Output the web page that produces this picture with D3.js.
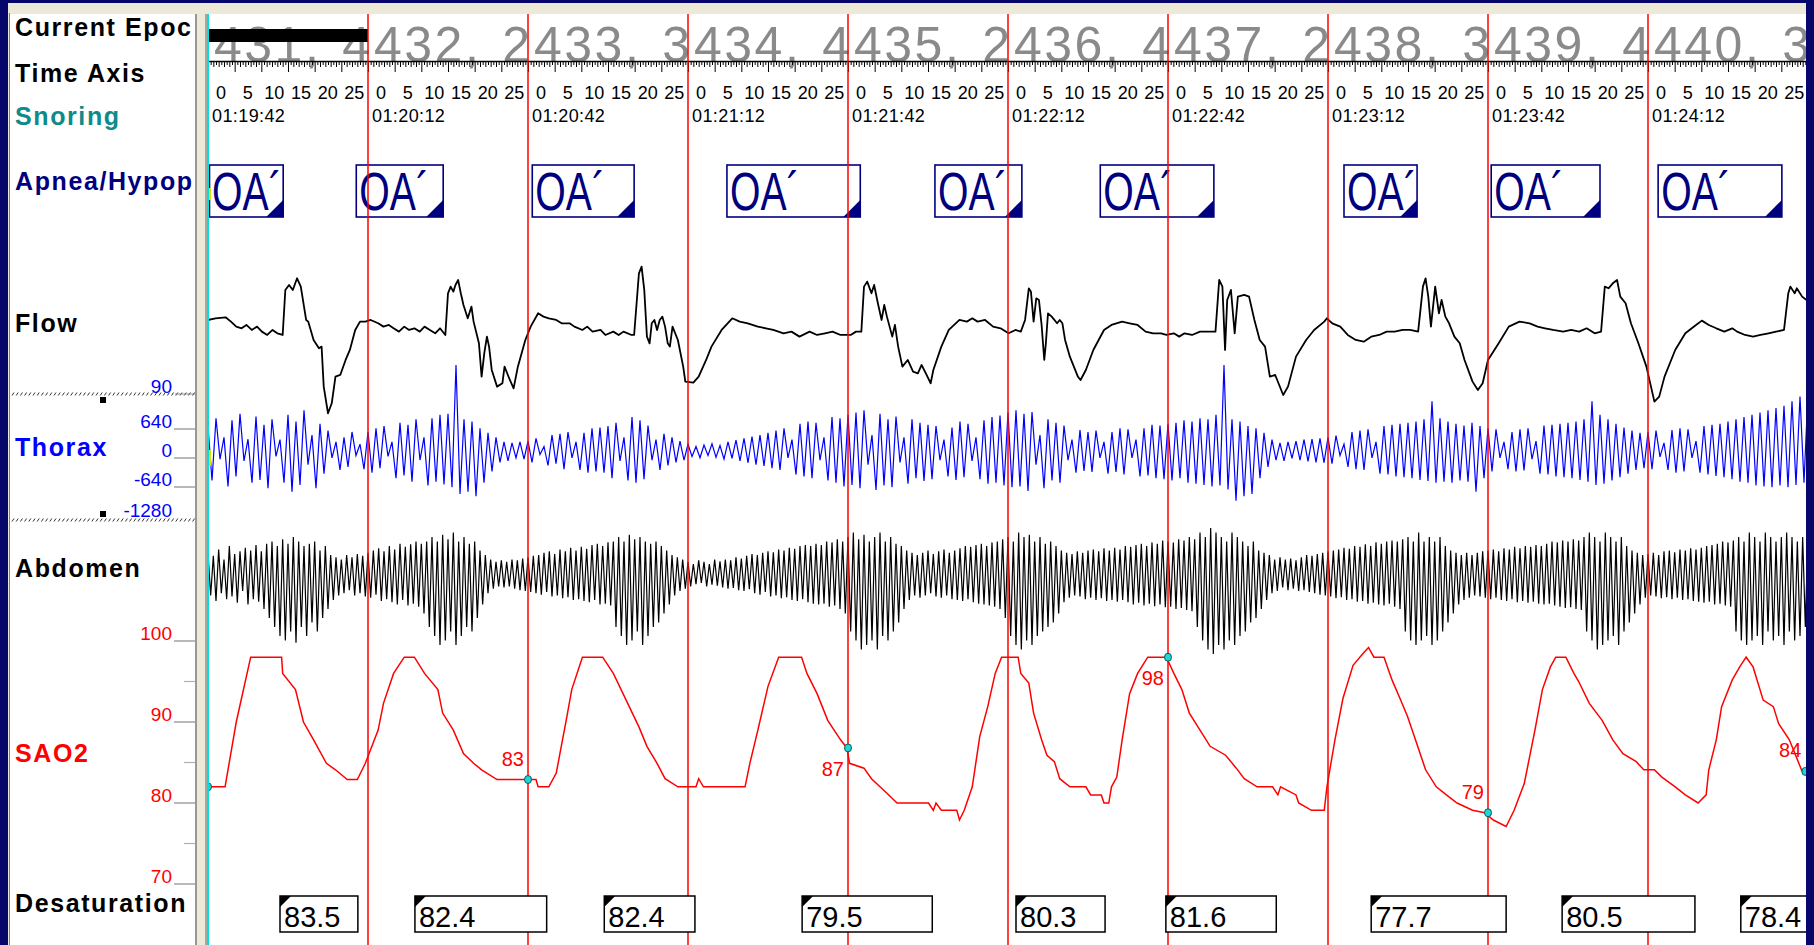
<!DOCTYPE html>
<html>
<head>
<meta charset="utf-8">
<script src="https://cdn.jsdelivr.net/npm/d3@7"></script>
<style>
  html, body { margin: 0; padding: 0; background: #07076b; overflow: hidden; }
  svg { display: block; }
</style>
</head>
<body>
<svg id="chart"></svg>
<script>
// ---- data ----
const channelNames = ['Current Epoc', 'Time Axis', 'Snoring', 'Apnea/Hypop', 'Flow', 'Thorax', 'Abdomen', 'SAO2', 'Desaturation'];
const epochNumbers = [431, 432, 433, 434, 435, 436, 437, 438, 439, 440];
const epochStages = [4, 2, 3, 4, 2, 4, 2, 3, 4, 3];
const epochClock = ['01:19:42', '01:20:12', '01:20:42', '01:21:12', '01:21:42', '01:22:12', '01:22:42', '01:23:12', '01:23:42', '01:24:12'];
const secondLabels = [0, 5, 10, 15, 20, 25];

const thoraxTicks = [640, 0, -640];
const sao2Ticks = [100, 90, 80, 70];
const sao2MinorTicks = [95, 85, 75];

// apnea events (seconds from window start)
const apneaStart = [0, 27.8, 60.8, 97.3, 136.3, 167.3, 213.0, 240.6, 271.9];
const apneaEnd = [14.1, 44.1, 79.9, 122.3, 152.6, 188.6, 226.7, 261.0, 295.1];
const apneaLabel = 'OA\u00b4';

// desaturation events
const desatStart = [13.5, 38.8, 74.3, 111.4, 151.5, 179.6, 218.1, 253.9, 287.4];
const desatEnd = [28.1, 63.5, 91.3, 135.8, 168.2, 200.3, 243.4, 278.8, 310];
const desatValue = ['83.5', '82.4', '82.4', '79.5', '80.3', '81.6', '77.7', '80.5', '78.4'];

// SAO2 markers
const markerTime = [0, 60, 120, 180, 240, 299.5];
const markerValue = [82, 82.9, 86.8, 98, 78.8, 83.9];
const markerText = ['', '83', '87', '98', '79', '84'];
const markerSide = ['', 'above', 'below', 'below', 'above', 'above'];

// SAO2 trace [seconds, %]
const sao2Points = [[0,82],[3.2,82],[5.3,90],[8.0,98],[13.8,98],[14.0,96],[16.4,94],[17.9,90],[19.8,87.8],[22.2,84.9],[23.9,84.1],[26.1,82.9],[28.0,82.9],[29.5,84.9],[31.9,89],[32.9,92.3],[34.8,96],[36.8,98],[38.7,98],[40.6,96],[43.1,94],[44.0,91.1],[46.0,89],[47.9,86.1],[49.8,84.9],[51.3,84.1],[54.2,82.9],[61.5,82.9],[61.9,82],[63.9,82],[65.3,83.7],[67.3,90.7],[68.2,94],[70.2,98],[74.0,98],[76.0,96],[78.4,92.7],[80.8,89.4],[82.3,87],[84.2,84.9],[85.7,83],[88.1,82],[91.5,82],[92.0,83],[92.9,82],[100.7,82],[101.6,84.9],[103.1,89],[105.0,94.4],[107.0,98],[111.3,98],[112.3,96],[114.2,93.5],[116.2,90.2],[118.6,87.8],[119.8,86.8],[120.3,84.9],[123.0,84.3],[124.4,83],[127.3,81.2],[129.2,80],[135.1,80],[136.0,79.1],[136.5,80],[137.5,79.1],[140.4,79.1],[140.9,77.9],[141.8,79.1],[143.3,82],[144.7,88.2],[146.2,91.9],[147.6,96],[148.8,98],[151.9,98],[152.4,96],[153.9,94.8],[154.8,91.1],[156.3,87.8],[157.3,85.9],[158.7,85.1],[159.7,83],[161.6,82],[164.6,82],[165.5,81],[167.5,81],[168.0,80],[168.9,80],[169.4,82],[170.4,83.2],[171.4,87.8],[172.8,93.5],[174.3,96],[176.2,98],[179.7,98],[181.1,96],[182.6,94],[184.0,91.1],[186.0,89],[187.9,87],[190.8,85.9],[192.8,84.3],[194.3,83],[196.7,82],[199.6,82],[200.6,81],[201.1,82],[204.0,81],[204.5,80],[206.9,79.1],[209.3,79.1],[209.8,82],[211.3,87.8],[212.8,92.9],[214.7,97],[216.6,98.5],[217.6,99.2],[218.6,98],[220.5,98],[222.0,95.2],[223.5,92.9],[224.9,90.7],[226.4,87.8],[228.3,84.1],[230.3,82],[232.2,81],[234.2,80],[237.1,79.1],[239.4,78.8],[241.0,77.9],[243.4,77.1],[244.9,79.1],[246.8,82.4],[247.8,85.7],[248.8,89],[250.2,94],[251.7,96.8],[252.7,98],[254.6,98],[256.1,96],[257.0,95],[259.0,92.3],[261.4,90.2],[263.4,87.8],[265.3,86.1],[267.8,85.1],[269.2,84.1],[271.2,84.1],[272.6,83.2],[275.1,82],[277.0,81],[279.4,80],[280.9,81],[281.4,84.1],[282.8,87.8],[283.8,91.9],[285.8,95.2],[287.2,96.8],[288.4,98],[289.7,96.8],[291.6,92.7],[293.5,91.9],[294.5,89.8],[296.5,87.8],[298.9,83.9],[300.5,83]];

// Flow trace [seconds, arbitrary units]
const flowPoints = [[0,10],[1.4,15],[3.3,18],[4.3,5],[5.3,-10],[6.3,-15],[7.2,-5],[8.2,-20],[9.2,-10],[10.1,-25],[11.1,-35],[12.1,-20],[13.0,-30],[14.0,-35],[14.5,100],[15.2,115],[15.9,100],[16.7,135],[17.4,110],[18.4,10],[18.8,5],[19.8,-50],[20.8,-75],[21.3,-70],[21.7,-190],[22.5,-270],[23.2,-240],[23.9,-160],[24.8,-155],[25.8,-110],[26.6,-80],[27.6,-20],[28.5,5],[29.5,5],[30.5,10],[31.9,0],[32.9,-10],[33.9,-5],[34.8,-15],[35.8,-25],[36.8,-10],[37.7,-20],[38.7,-15],[39.7,-25],[40.6,-10],[41.6,-20],[42.6,-30],[43.5,-15],[44.5,-35],[45.0,90],[45.5,110],[46.0,95],[46.4,115],[46.9,130],[47.4,90],[47.9,55],[48.7,15],[49.4,50],[49.8,5],[50.8,-60],[51.3,-160],[51.8,-90],[52.3,-40],[52.7,-70],[53.2,-140],[54.2,-190],[55.2,-180],[55.6,-130],[56.6,-170],[57.3,-195],[58.1,-130],[59.5,-50],[60.5,-10],[61.9,30],[62.9,20],[63.9,15],[65.3,10],[66.3,0],[67.8,0],[68.7,-10],[70.2,-20],[71.1,-10],[72.1,-25],[73.6,-20],[74.5,-35],[76.0,-25],[77.0,-35],[77.9,-25],[79.4,-35],[79.9,-35],[80.8,150],[81.3,170],[81.8,100],[82.3,-40],[82.8,-60],[83.2,0],[83.7,10],[84.2,-20],[84.7,10],[85.2,20],[85.7,-10],[86.2,-60],[86.6,-70],[87.1,-10],[88.1,-50],[89.1,-130],[89.5,-175],[91.0,-178],[92.0,-160],[93.4,-110],[94.4,-70],[96.3,-20],[98.3,15],[99.7,5],[101.2,0],[103.1,-10],[104.6,-15],[106.0,-20],[107.9,-30],[109.4,-25],[110.9,-40],[112.8,-25],[114.2,-35],[115.7,-30],[117.1,-25],[118.6,-35],[120.5,-35],[121.5,-25],[122.5,-25],[123.0,110],[123.6,125],[124.4,90],[124.9,115],[125.6,60],[126.3,10],[126.8,55],[127.3,20],[128.3,-40],[128.8,-5],[129.4,-70],[130.2,-130],[131.2,-110],[132.2,-145],[133.1,-150],[133.8,-125],[134.6,-150],[135.5,-180],[136.0,-140],[137.5,-70],[138.9,-20],[140.9,10],[142.3,5],[143.3,15],[144.3,5],[145.7,10],[147.2,-10],[148.6,-15],[150.1,-30],[151.4,-20],[152.4,-25],[153.2,10],[153.9,105],[154.3,95],[154.8,5],[155.3,75],[155.8,70],[156.3,-5],[156.8,-110],[157.1,-60],[157.5,30],[158.2,20],[159.2,0],[159.7,10],[160.2,0],[160.7,-50],[161.6,-100],[163.1,-160],[163.6,-170],[164.6,-140],[166.0,-80],[168.0,-20],[169.4,-5],[171.4,5],[172.8,0],[174.3,-5],[175.8,-25],[177.2,-30],[178.7,-30],[179.7,-35],[181.1,-30],[182.1,-40],[183.1,-30],[184.5,-35],[186.0,-25],[187.4,-25],[188.9,-25],[189.6,130],[190.2,110],[190.7,-80],[191.1,70],[191.8,100],[192.5,-30],[193.1,80],[194.3,85],[195.2,80],[196.2,10],[197.2,-50],[198.2,-70],[199.1,-160],[200.1,-155],[201.6,-215],[202.5,-190],[204.0,-100],[205.9,-50],[207.4,-20],[209.3,5],[209.8,15],[210.8,0],[212.3,-10],[213.7,-35],[215.2,-50],[216.7,-55],[218.1,-40],[219.6,-35],[221.0,-25],[222.5,-25],[224.0,-20],[225.4,-20],[226.9,-25],[227.8,110],[228.3,135],[228.8,80],[229.3,-10],[230.1,110],[230.8,30],[231.3,70],[232.0,20],[232.7,0],[233.7,-40],[234.7,-60],[235.6,-110],[237.1,-175],[238.1,-200],[239.0,-180],[240.0,-110],[242.0,-60],[243.9,-10],[245.9,5],[247.8,0],[249.3,-10],[250.7,-15],[252.2,-20],[254.1,-25],[255.6,-20],[257.1,-25],[258.5,-15],[260.0,-30],[261.2,-25],[261.9,110],[262.6,105],[263.4,120],[264.2,130],[264.8,80],[265.8,60],[266.8,0],[268.2,-60],[269.7,-130],[271.2,-235],[272.1,-220],[273.1,-160],[275.1,-80],[277.0,-30],[279.0,-5],[280.1,8],[281.4,-5],[282.8,-15],[284.3,-25],[285.8,-15],[286.7,-25],[288.2,-35],[289.7,-40],[291.1,-35],[292.6,-30],[294.0,-25],[295.5,-20],[296.3,90],[296.7,110],[297.5,90],[297.9,105],[298.9,80],[300.5,60]];

// Thorax effort, one sample every 0.75 s (scale units), 15 s per row
const thoraxValues = [
  550,-650,720,-180,300,-780,680,-560,820,-220,260,-700,760,-640,580,-820,700,-120,250,-700,
  800,-900,650,-750,900,-300,350,-820,600,-500,450,-150,200,-420,300,-350,420,-100,150,-400,
  420,-480,500,-380,550,-120,200,-600,620,-540,580,-680,700,-200,300,-760,720,-680,800,-740,
  820,-800,1900,-950,700,-900,650,-1000,500,-700,400,-450,300,-250,200,-220,180,-150,200,-180,
  220,-250,280,-80,100,-320,350,-280,380,-400,420,-150,200,-420,400,-480,500,-450,520,-480,
  550,-600,620,-220,300,-650,750,-700,680,-620,560,-200,250,-420,380,-320,300,-250,220,-200,
  150,-120,100,-150,130,-100,160,-140,120,-180,200,-160,240,-220,280,-260,320,-300,350,-330,
  400,-380,450,-420,500,-150,250,-520,600,-560,650,-600,620,-200,300,-650,750,-700,720,-780,
  800,-750,850,-820,900,-300,350,-860,820,-760,700,-800,760,-250,300,-720,700,-600,620,-660,
  580,-620,550,-200,250,-560,520,-640,650,-580,600,-220,300,-620,680,-720,750,-700,780,-760,
  850,-800,900,-780,820,-880,860,-300,350,-820,700,-650,620,-700,560,-200,250,-480,460,-440,
  420,-460,450,-150,200,-500,420,-460,500,-520,480,-150,250,-560,500,-540,580,-600,560,-620,
  600,-650,620,-600,680,-700,650,-720,720,-750,700,-780,800,-760,1900,-850,700,-1100,650,-1000,
  550,-950,500,-600,400,-350,250,-200,180,-220,200,-160,220,-200,250,-230,260,-250,280,-260,
  300,-280,340,-100,150,-350,420,-400,450,-420,480,-150,200,-500,550,-520,580,-560,600,-580,
  620,-600,650,-640,700,-660,1100,-700,720,-680,650,-700,600,-650,560,-680,620,-900,550,-600,
  500,-450,480,-150,200,-400,420,-450,480,-430,500,-180,220,-500,560,-520,580,-560,600,-580,
  620,-600,650,-640,700,-680,1100,-750,800,-720,700,-650,600,-580,520,-500,450,-420,400,-380,
  420,-400,450,-130,180,-420,460,-480,500,-450,480,-150,220,-480,550,-520,580,-550,600,-580,
  650,-620,700,-680,750,-700,800,-760,850,-780,900,-800,950,-760,1000,-800,1100,-750,1200,-700,
  1300
];

// Abdomen effort, one sample every 0.5 s (arbitrary units), 10 s per row
const abdomenValues = [
  450,-500,380,-620,520,-450,300,-580,600,-520,420,-660,480,-400,560,-700,500,-580,620,-640,
  480,-800,650,-1000,700,-1200,600,-1400,750,-1500,650,-1300,800,-1550,700,-1200,600,-1400,650,-1100,
  700,-1300,500,-1000,600,-800,400,-600,350,-500,300,-450,400,-380,350,-500,420,-450,380,-520,
  450,-550,500,-480,550,-620,480,-580,600,-650,520,-700,650,-600,580,-720,640,-680,700,-750,
  650,-900,700,-1200,800,-1400,700,-1600,850,-1500,750,-1300,900,-1600,700,-1400,800,-1200,650,-1300,
  700,-1000,500,-700,400,-450,300,-350,250,-300,280,-320,250,-300,300,-350,280,-380,320,-400,
  350,-420,380,-450,400,-480,450,-420,480,-520,420,-500,520,-560,480,-540,560,-600,500,-580,
  580,-620,540,-650,620,-600,650,-700,600,-680,680,-720,700,-1200,800,-1400,700,-1600,850,-1500,
  750,-1300,800,-1600,700,-1400,650,-1200,700,-1100,600,-900,500,-700,400,-500,350,-400,300,-350,
  250,-300,200,-250,280,-220,250,-300,200,-260,300,-280,260,-320,300,-350,280,-330,350,-380,
  320,-400,380,-360,420,-450,400,-480,450,-420,480,-520,460,-500,520,-560,500,-540,560,-600,
  540,-620,600,-580,620,-650,600,-680,650,-700,620,-680,700,-750,680,-720,750,-800,700,-900,
  800,-1300,900,-1500,750,-1700,850,-1600,700,-1500,800,-1700,900,-1400,700,-1500,800,-1300,650,-1100,
  600,-800,500,-600,450,-500,400,-550,450,-500,500,-450,420,-520,480,-550,520,-500,450,-580,
  500,-600,550,-620,600,-580,580,-650,620,-680,650,-700,600,-720,680,-750,700,-800,750,-1000,
  800,-1400,700,-1600,900,-1700,800,-1500,850,-1600,700,-1400,800,-1300,650,-1200,700,-1100,600,-900,
  500,-650,450,-550,420,-500,480,-520,450,-580,500,-550,520,-600,480,-560,550,-620,500,-600,
  560,-640,520,-600,600,-650,580,-700,620,-660,650,-720,600,-680,680,-740,650,-700,720,-760,
  700,-750,680,-800,750,-780,720,-820,800,-850,750,-1200,900,-1500,800,-1700,1000,-1800,900,-1600,
  800,-1700,700,-1500,900,-1600,800,-1400,700,-1300,600,-1100,700,-1000,500,-800,450,-600,400,-450,
  300,-400,350,-320,300,-380,320,-350,280,-400,350,-380,400,-420,380,-450,420,-480,450,-500,
  480,-520,500,-560,520,-540,560,-600,540,-580,600,-640,580,-620,640,-680,600,-660,680,-700,
  650,-720,700,-680,720,-750,700,-800,750,-1300,800,-1500,700,-1600,900,-1500,700,-1400,800,-1600,
  700,-1500,800,-1300,600,-1100,500,-900,450,-700,400,-600,450,-550,400,-500,450,-520,480,-550,
  500,-580,520,-550,480,-600,550,-620,520,-580,580,-650,550,-620,600,-660,580,-640,620,-680,
  600,-700,650,-680,700,-720,680,-750,720,-780,700,-760,750,-800,720,-820,800,-1300,900,-1500,
  800,-1700,700,-1600,900,-1500,800,-1400,700,-1600,800,-1300,600,-1100,500,-900,450,-700,400,-550,
  420,-500,450,-520,400,-560,480,-540,500,-580,460,-550,520,-600,500,-580,550,-620,520,-640,
  560,-660,600,-640,620,-700,650,-680,700,-720,680,-750,720,-1300,800,-1500,700,-1600,900,-1500,
  800,-1400,700,-1600,900,-1300,800,-1500,700,-1400,800,-1600,900,-1300,800,-1500,700,-1400,800,-1200,
  900
];

// ---- layout ----
const W = 1814, H = 945;
const plotL = 209, plotR = 1806, plotT = 14;
const EPOCH = 30;

const svg = d3.select('#chart').attr('width', W).attr('height', H);

const x = d3.scaleLinear().domain([0, 300]).range([208, 1808]);
const yFlow = d3.scaleLinear().domain([-300, 300]).range([423.3, 223.3]);
const yThorax = d3.scaleLinear().domain([-640, 640]).range([480, 422]);
const yAbdomen = d3.scaleLinear().domain([-1000, 1000]).range([618, 528]);
const ySao2 = d3.scaleLinear().domain([70, 100]).range([884, 641]);

const defs = svg.append('defs');
defs.append('clipPath').attr('id', 'plotClip')
  .append('rect').attr('x', plotL).attr('y', plotT).attr('width', plotR - plotL).attr('height', H - plotT);

// window frame
svg.append('rect').attr('width', W).attr('height', H).attr('fill', '#07076b');
svg.append('rect').attr('x', 8).attr('y', 3).attr('width', plotR - 8).attr('height', H - 3).attr('fill', '#ece9d8');
svg.append('rect').attr('x', 9).attr('y', 13).attr('width', 1).attr('height', H).attr('fill', '#808080');
svg.append('rect').attr('x', 10).attr('y', plotT).attr('width', 185).attr('height', H).attr('fill', '#fff');
svg.append('rect').attr('x', 195).attr('y', plotT).attr('width', 2).attr('height', H).attr('fill', '#9a9890');
svg.append('rect').attr('x', 205).attr('y', plotT).attr('width', 2).attr('height', H).attr('fill', '#a8a59c');
svg.append('rect').attr('x', plotL).attr('y', plotT).attr('width', plotR - plotL).attr('height', H).attr('fill', '#fff');
svg.append('rect').attr('x', 207).attr('y', plotT).attr('width', 2).attr('height', H).attr('fill', '#00e0e0');

// ---- left channel labels ----
const labelColor = ['#000', '#000', '#0e8a8a', '#00007f', '#000', '#0000ff', '#000', '#ff0000', '#000'];
const labelBase = [36, 82, 125, 190, 332, 456, 577, 762, 912];
svg.append('g')
  .selectAll('text').data(channelNames).enter().append('text')
  .attr('x', 15).attr('y', (d, i) => labelBase[i])
  .attr('fill', (d, i) => labelColor[i])
  .style('font-family', 'Liberation Sans, Arial, sans-serif').style('font-weight', 'bold')
  .style('font-size', '25px').style('letter-spacing', '1.6px')
  .text(d => d);

// thorax scale
const scaleFont = 'Liberation Sans, Arial, sans-serif';
const thoraxScale = svg.append('g');
thoraxScale.selectAll('text').data(thoraxTicks).enter().append('text')
  .attr('x', 172).attr('y', d => yThorax(d) + 6).attr('text-anchor', 'end')
  .attr('fill', '#0000ff').style('font-family', scaleFont).style('font-size', '19px').text(d => d);
thoraxScale.selectAll('line').data(thoraxTicks).enter().append('line')
  .attr('x1', 174).attr('x2', 195).attr('y1', d => yThorax(d) + 7).attr('y2', d => yThorax(d) + 7)
  .attr('stroke', '#8a8a8a').attr('stroke-width', 1.2);
thoraxScale.append('text').attr('x', 172).attr('y', 393).attr('text-anchor', 'end')
  .attr('fill', '#0000ff').style('font-family', scaleFont).style('font-size', '19px').text('90');
thoraxScale.append('text').attr('x', 172).attr('y', 517).attr('text-anchor', 'end')
  .attr('fill', '#0000ff').style('font-family', scaleFont).style('font-size', '19px').text('-1280');
// hatched range lines
[394, 520].forEach(yy => {
  const g = thoraxScale.append('g');
  g.selectAll('line').data(d3.range(12, 194, 4.2)).enter().append('line')
    .attr('x1', d => d).attr('x2', d => d + 2).attr('y1', yy + 1.5).attr('y2', yy - 1.5)
    .attr('stroke', '#333').attr('stroke-width', 1);
});
thoraxScale.append('rect').attr('x', 100).attr('y', 397).attr('width', 6).attr('height', 6).attr('fill', '#000');
thoraxScale.append('rect').attr('x', 100).attr('y', 511).attr('width', 6).attr('height', 6).attr('fill', '#000');
thoraxScale.append('line').attr('x1', 175).attr('x2', 195).attr('y1', 394).attr('y2', 394).attr('stroke', '#8a8a8a');

// SAO2 scale
const sScale = svg.append('g');
sScale.selectAll('text').data(sao2Ticks).enter().append('text')
  .attr('x', 172).attr('y', d => ySao2(d) - 1).attr('text-anchor', 'end')
  .attr('fill', '#ff0000').style('font-family', scaleFont).style('font-size', '19px').text(d => d);
sScale.selectAll('line.maj').data(sao2Ticks).enter().append('line')
  .attr('x1', 174).attr('x2', 195).attr('y1', d => ySao2(d)).attr('y2', d => ySao2(d))
  .attr('stroke', '#8a8a8a').attr('stroke-width', 1.2);
sScale.selectAll('line.min').data(sao2MinorTicks).enter().append('line')
  .attr('x1', 184).attr('x2', 195).attr('y1', d => ySao2(d)).attr('y2', d => ySao2(d))
  .attr('stroke', '#b0b0b0').attr('stroke-width', 1.2);

// ---- plot area ----
const plot = svg.append('g').attr('clip-path', 'url(#plotClip)');
const epochs = d3.range(epochNumbers.length);

// big epoch / stage labels
const epochFont = 'Liberation Sans, Arial, sans-serif';
plot.selectAll('text.epoch').data(epochs).enter().append('text')
  .attr('class', 'epoch')
  .attr('x', k => x(k * EPOCH) + 6).attr('y', 62)
  .attr('fill', '#8a8a8a').style('font-family', epochFont).style('font-size', '50px')
  .style('letter-spacing', '2.5px')
  .text(k => epochNumbers[k] + ',');
plot.selectAll('text.stage').data(epochs).enter().append('text')
  .attr('class', 'stage')
  .attr('x', k => x((k + 1) * EPOCH) + 2).attr('y', 62).attr('text-anchor', 'end')
  .attr('fill', '#8a8a8a').style('font-family', epochFont).style('font-size', '50px')
  .text(k => epochStages[k]);

// current epoch bar
plot.append('rect').attr('x', plotL).attr('y', 29).attr('width', x(EPOCH) - plotL).attr('height', 13).attr('fill', '#000');

// time ruler
plot.append('line').attr('x1', plotL).attr('x2', plotR).attr('y1', 61.5).attr('y2', 61.5)
  .attr('stroke', '#000').attr('stroke-width', 1.5);
const halfSeconds = d3.range(0, 300, 0.5);
plot.selectAll('line.tick').data(halfSeconds).enter().append('line')
  .attr('x1', d => x(d) + 0.5).attr('x2', d => x(d) + 0.5)
  .attr('y1', 62).attr('y2', d => (d % 5 === 0 ? 72 : d % 1 === 0 ? 67 : 65))
  .attr('stroke', '#000').attr('stroke-width', 1);

const tickFont = 'Liberation Sans, Arial, sans-serif';
epochs.forEach(k => {
  plot.selectAll('text.sec' + k).data(secondLabels).enter().append('text')
    .attr('x', d => x(k * EPOCH + d) + 13).attr('y', 99).attr('text-anchor', 'middle')
    .attr('fill', '#000').style('font-family', tickFont).style('font-size', '18px')
    .text(d => d);
});
plot.selectAll('text.clock').data(epochs).enter().append('text')
  .attr('x', k => x(k * EPOCH) + 4).attr('y', 122)
  .attr('fill', '#000').style('font-family', tickFont).style('font-size', '18px').style('letter-spacing', '0.4px')
  .text(k => epochClock[k]);

// apnea boxes
const apnea = plot.selectAll('g.apnea').data(apneaStart).enter().append('g');
apnea.append('rect')
  .attr('x', (d, i) => Math.max(x(d), plotL + 0.5)).attr('y', 165)
  .attr('width', (d, i) => x(apneaEnd[i]) - Math.max(x(d), plotL + 0.5)).attr('height', 52)
  .attr('fill', '#fff').attr('stroke', '#00007f').attr('stroke-width', 1.6);
apnea.append('path')
  .attr('d', (d, i) => { const r = x(apneaEnd[i]); return `M${r},217L${r - 17},217L${r},200Z`; })
  .attr('fill', '#00007f');
apnea.append('text')
  .attr('transform', d => `translate(${Math.max(x(d), plotL) + 3},210) scale(0.74,1)`)
  .attr('fill', '#00007f').style('font-family', 'Liberation Sans, Arial, sans-serif').style('font-size', '53px')
  .text(apneaLabel);

// signals
const flowLine = d3.line().x(d => x(d[0])).y(d => yFlow(d[1]));
plot.append('path').attr('d', flowLine(flowPoints))
  .attr('fill', 'none').attr('stroke', '#000').attr('stroke-width', 1.8).attr('stroke-linejoin', 'round');

const thoraxLine = d3.line().x((d, i) => x(i * 300 / (thoraxValues.length - 1))).y(d => yThorax(d));
plot.append('path').attr('d', thoraxLine(thoraxValues))
  .attr('fill', 'none').attr('stroke', '#0000ff').attr('stroke-width', 1.2);

const abdomenLine = d3.line().x((d, i) => x(i * 300 / (abdomenValues.length - 1))).y(d => yAbdomen(d));
plot.append('path').attr('d', abdomenLine(abdomenValues))
  .attr('fill', 'none').attr('stroke', '#000').attr('stroke-width', 1.2);

const sao2Line = d3.line().x(d => x(d[0])).y(d => ySao2(d[1]));
plot.append('path').attr('d', sao2Line(sao2Points))
  .attr('fill', 'none').attr('stroke', '#ff0000').attr('stroke-width', 1.5);

// epoch boundaries
plot.selectAll('line.epochLine').data(d3.range(1, epochNumbers.length)).enter().append('line')
  .attr('x1', k => x(k * EPOCH)).attr('x2', k => x(k * EPOCH))
  .attr('y1', plotT).attr('y2', H)
  .attr('stroke', '#ff0000').attr('stroke-width', 1.5);

// SAO2 markers
plot.selectAll('ellipse.mk').data(markerTime).enter().append('ellipse')
  .attr('cx', d => x(d)).attr('cy', (d, i) => ySao2(markerValue[i]))
  .attr('rx', 3.5).attr('ry', 4)
  .attr('fill', '#22d4d4').attr('stroke', '#006060').attr('stroke-width', 1);
plot.selectAll('text.mk').data(markerTime).enter().append('text')
  .attr('x', d => x(d) - 4)
  .attr('y', (d, i) => ySao2(markerValue[i]) + (markerSide[i] === 'below' ? 28 : -14))
  .attr('text-anchor', 'end').attr('fill', '#ff0000')
  .style('font-family', 'Liberation Sans, Arial, sans-serif').style('font-size', '20px')
  .text((d, i) => markerText[i]);

// desaturation boxes
const desat = plot.selectAll('g.desat').data(desatStart).enter().append('g');
desat.append('rect')
  .attr('x', d => x(d)).attr('y', 896)
  .attr('width', (d, i) => x(desatEnd[i]) - x(d)).attr('height', 36)
  .attr('fill', '#fff').attr('stroke', '#000').attr('stroke-width', 1.5);
desat.append('path')
  .attr('d', d => `M${x(d)},896L${x(d) + 11},896L${x(d)},907Z`).attr('fill', '#000');
desat.append('text')
  .attr('x', d => x(d) + 4).attr('y', 927)
  .attr('fill', '#000').style('font-family', 'Liberation Sans, Arial, sans-serif').style('font-size', '29px')
  .text((d, i) => desatValue[i]);

// small yellow flags at the left edge
plot.append('rect').attr('x', plotL).attr('y', 188).attr('width', 2).attr('height', 12).attr('fill', '#e0e000');
plot.append('rect').attr('x', plotL).attr('y', 450).attr('width', 2).attr('height', 16).attr('fill', '#e0e000');
</script>
</body>
</html>
